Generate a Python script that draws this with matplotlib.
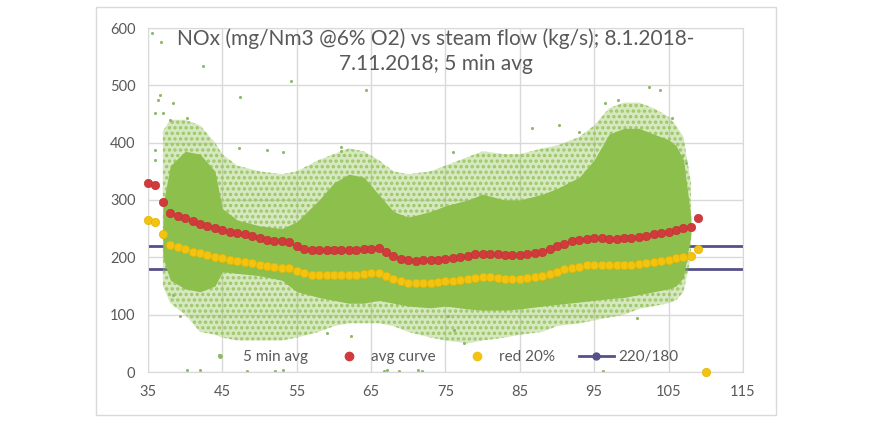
import matplotlib
matplotlib.use("Agg")
import matplotlib.pyplot as plt
from matplotlib.lines import Line2D
from matplotlib.patches import Rectangle

plt.rcParams['font.family'] = ['Lato', 'DejaVu Sans']
plt.rcParams['hatch.linewidth'] = 1.6

# avg curve (red) och red 20% (gul), avlästa punkt för punkt
avg_x = list(range(35, 110))
avg_y = [330, 327, 297, 277, 272, 268, 263, 259, 255, 251,
         248, 245, 243, 240, 237, 234, 231, 229, 228, 227,
         220, 215, 213, 212, 212, 212, 213, 212, 213, 214,
         215, 216, 210, 203, 197, 195, 194, 195, 195, 196,
         197, 198, 200, 203, 205, 206, 206, 205, 204, 204,
         204, 205, 207, 210, 214, 219, 224, 228, 230, 232,
         233, 233, 232, 232, 233, 234, 236, 238, 240, 242,
         245, 248, 251, 253, 268]

red20_x = list(range(35, 111))
red20_y = [265, 262, 240, 222, 218, 214, 210, 207, 204, 201,
           198, 196, 194, 192, 190, 187, 185, 183, 182, 181,
           176, 172, 170, 170, 169, 169, 170, 169, 170, 171,
           172, 173, 168, 163, 158, 156, 155, 156, 156, 157,
           158, 158, 160, 162, 164, 165, 165, 164, 163, 163,
           163, 164, 166, 168, 171, 175, 179, 182, 184, 186,
           186, 186, 186, 186, 186, 187, 189, 190, 192, 194,
           196, 198, 201, 203, 215, 0]

# gränslinjer 220/180
lim_x = [35, 115]
lim_hi = [220, 220]
lim_lo = [180, 180]

# 5 min avg: molnets ytterkanter (gles del) och kärna (tät del)
env_x = [37, 38, 40, 42, 44, 45, 47, 50, 53, 55, 58, 60, 62, 64, 66, 68, 70,
         73, 75, 78, 80, 83, 85, 88, 90, 93, 95, 97, 99, 101, 103, 105, 106,
         107, 108]
sparse_lo = [150, 120, 100, 70, 65, 60, 55, 55, 55, 60, 70, 80, 85, 85, 85,
             80, 70, 60, 55, 50, 55, 60, 65, 70, 80, 85, 90, 95, 100, 110,
             115, 120, 125, 140, 200]
sparse_hi = [420, 440, 440, 430, 400, 380, 360, 350, 345, 350, 370, 380, 390,
             385, 370, 350, 345, 350, 360, 375, 385, 380, 380, 390, 395, 410,
             430, 460, 470, 470, 460, 445, 430, 410, 330]
dense_lo = [200, 160, 145, 140, 150, 175, 172, 168, 160, 140, 130, 125, 120,
            120, 125, 120, 115, 112, 115, 110, 108, 108, 110, 115, 118, 122,
            125, 128, 130, 135, 140, 145, 150, 165, 240]
dense_hi = [290, 360, 385, 380, 350, 285, 265, 255, 250, 262, 300, 330, 345,
            340, 310, 280, 270, 280, 290, 300, 310, 300, 300, 310, 320, 340,
            370, 415, 425, 425, 415, 405, 395, 370, 270]

# enstaka punkter utanför molnet
out_x = [35.5, 36.8, 42.4, 54.2, 47.4, 64.3, 36.6, 36.4, 38.4, 36.0, 37.0,
         38.0, 40.2, 60.9, 53.2, 76.0, 51.0, 47.2, 60.9, 36.0, 36.0,
         102.3, 103.9, 96.4, 98.2, 90.2, 86.6, 93.0, 105.4, 106.8, 107.3,
         44.5, 40.2, 42.0, 48.3, 53.2, 62.3, 67.2, 71.3, 59.1, 39.3, 38.4,
         100.7, 106.8, 77.5, 96.2, 76.2, 75.3, 66.7, 68.7, 71.9, 52.1]
out_y = [591, 576, 533, 507, 480, 491, 483, 475, 469, 452, 452,
         440, 443, 393, 384, 383, 387, 391, 385, 387, 370,
         497, 491, 469, 475, 431, 426, 419, 443, 376, 364,
         30, 3, 3, 1, 3, 62, 3, 3, 68, 97, 134,
         94, 167, 50, 2, 73, 97, 1, 2, 2, 1]

x_ticks = [35, 45, 55, 65, 75, 85, 95, 105, 115]
y_ticks = [0, 100, 200, 300, 400, 500, 600]

title = "NOx (mg/Nm3 @6% O2) vs steam flow (kg/s); 8.1.2018-\n7.11.2018; 5 min avg"

GRAY = '#d9d9d9'
TEXT = '#595959'
GREEN = '#8cbf4b'
RED = '#d23b3b'
YELLOW = '#f3c311'
PURPLE = '#55508a'

fig = plt.figure(figsize=(8.7, 4.21), dpi=100)
fig.patches.append(Rectangle((96 / 870, 1 - 415 / 421), 680 / 870, 408 / 421,
                             transform=fig.transFigure, fill=False,
                             edgecolor=GRAY, lw=1))
ax = fig.add_axes([148 / 870, 1 - 372 / 421, 595 / 870, 344 / 421])

ax.set_xlim(35, 115)
ax.set_ylim(0, 600)
ax.set_xticks(x_ticks)
ax.set_yticks(y_ticks)
ax.grid(True, color=GRAY, lw=1)
ax.set_axisbelow(True)
for s in ax.spines.values():
    s.set_color(GRAY)
ax.tick_params(length=0, colors=TEXT, labelsize=10.5, pad=9)

ax.plot(lim_x, lim_hi, color=PURPLE, lw=2, zorder=1)
ax.plot(lim_x, lim_lo, color=PURPLE, lw=2, zorder=1)

# gles del: ljus ton + prickmönster
ax.fill_between(env_x, sparse_lo, sparse_hi, facecolor=(0.55, 0.75, 0.29, 0.35),
                edgecolor='#9cc766', hatch='...', lw=0, zorder=2)
ax.fill_between(env_x, dense_lo, dense_hi, color=GREEN, lw=0, zorder=2)
ax.scatter(out_x, out_y, s=5, color='#8fb86a', lw=0, zorder=2, clip_on=False)

ax.scatter(avg_x, avg_y, s=36, color=RED, edgecolors='#c23434', lw=0.5,
           zorder=3, clip_on=False)
ax.scatter(red20_x, red20_y, s=36, color=YELLOW, edgecolors='#e5b400', lw=0.5,
           zorder=4, clip_on=False)

fig.text(436 / 870, 1 - 51.5 / 421, title, ha='center', va='center',
         fontsize=15, color=TEXT, linespacing=1.3)

handles = [
    Line2D([], [], ls='none', marker='o', ms=2.5, color='#8fb86a'),
    Line2D([], [], ls='none', marker='o', ms=6, color=RED),
    Line2D([], [], ls='none', marker='o', ms=6, color=YELLOW),
    Line2D([], [], color=PURPLE, lw=2, marker='o', ms=5),
]
labels = ['5 min avg', 'avg curve', 'red 20%', '220/180']
ax.legend(handles, labels, loc='center', bbox_to_anchor=(0.492, 0.044), ncol=4,
          frameon=False, fontsize=11, labelcolor=TEXT, handlelength=2.3,
          handletextpad=0.3, columnspacing=1.55)

fig.savefig('out.png', dpi=100)
